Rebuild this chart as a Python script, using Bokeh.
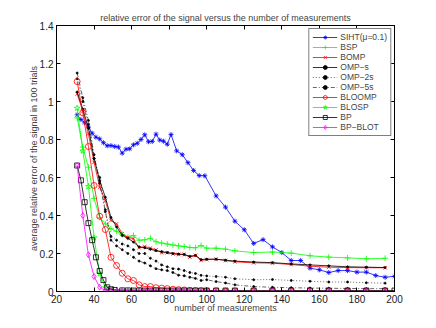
from bokeh.plotting import figure
from bokeh.models import Range1d, LinearAxis, FixedTicker, Legend, CustomJSTickFormatter
from bokeh.embed import file_html
from bokeh.resources import INLINE

# ---------------- data ----------------
x_siht = [31, 33, 35, 37, 39, 41, 43, 45, 47, 49, 51, 53, 55, 57, 59, 61, 63, 65, 67, 69,
          71, 73, 75, 77, 79, 81, 84, 87, 90, 93, 96, 99, 105, 110, 115, 120, 125, 130, 135,
          140, 145, 150, 155, 160, 165, 170, 175, 180, 185, 190, 195, 200]
siht = [0.93, 0.905, 0.888, 0.865, 0.833, 0.812, 0.803, 0.783, 0.767, 0.768, 0.763, 0.76,
        0.728, 0.749, 0.751, 0.772, 0.78, 0.80, 0.825, 0.788, 0.79, 0.828, 0.797, 0.791,
        0.775, 0.826, 0.74, 0.72, 0.678, 0.637, 0.61, 0.609, 0.503, 0.444, 0.37, 0.325,
        0.253, 0.273, 0.235, 0.205, 0.163, 0.163, 0.123, 0.114, 0.1, 0.11, 0.11, 0.102,
        0.102, 0.084, 0.075, 0.08]

x_grid = [31, 34, 37, 40, 43, 46, 49, 52, 55, 58, 61, 64, 67, 70, 73, 76, 79, 82, 85, 88,
          91, 94, 97, 100, 105, 110, 115, 125, 135, 145, 155, 165, 175, 185, 195]

bsp = [0.914, 0.76, 0.654, 0.49, 0.39, 0.356, 0.33, 0.317, 0.3, 0.285, 0.295, 0.27, 0.272,
       0.28, 0.262, 0.255, 0.25, 0.245, 0.24, 0.237, 0.232, 0.23, 0.242, 0.228, 0.228,
       0.223, 0.214, 0.205, 0.208, 0.202, 0.188, 0.181, 0.177, 0.172, 0.175]

bomp = [1.04, 0.95, 0.83, 0.68, 0.549, 0.479, 0.374, 0.356, 0.304, 0.285, 0.277, 0.23,
        0.237, 0.228, 0.219, 0.204, 0.204, 0.198, 0.195, 0.195, 0.181, 0.19, 0.163, 0.168,
        0.17, 0.163, 0.156, 0.151, 0.149, 0.142, 0.133, 0.128, 0.126, 0.125, 0.125]

omp_s = [1.05, 0.96, 0.86, 0.70, 0.584, 0.496, 0.39, 0.34, 0.295, 0.28, 0.26, 0.235, 0.23,
         0.222, 0.215, 0.21, 0.205, 0.2, 0.197, 0.195, 0.185, 0.19, 0.168, 0.17, 0.17,
         0.165, 0.16, 0.155, 0.152, 0.145, 0.14, 0.135, 0.13, 0.128, 0.126]

omp_2s = [1.12, 1.0, 0.88, 0.70, 0.60, 0.43, 0.29, 0.27, 0.25, 0.24, 0.22, 0.2, 0.2, 0.175,
          0.16, 0.14, 0.13, 0.12, 0.118, 0.11, 0.1, 0.095, 0.085, 0.082, 0.079, 0.075,
          0.067, 0.062, 0.063, 0.058, 0.054, 0.05, 0.05, 0.046, 0.044]

omp_5s = [1.15, 1.02, 0.9, 0.72, 0.57, 0.42, 0.27, 0.24, 0.22, 0.2, 0.18, 0.16, 0.15, 0.135,
          0.12, 0.114, 0.11, 0.1, 0.086, 0.083, 0.075, 0.069, 0.058, 0.062, 0.052, 0.045,
          0.035, 0.026, 0.022, 0.02, 0.018, 0.017, 0.016, 0.015, 0.015]

bloomp = [1.105, 0.94, 0.763, 0.558, 0.396, 0.326, 0.18, 0.137, 0.096, 0.067, 0.058, 0.035,
          0.026, 0.026, 0.02, 0.018, 0.015, 0.012, 0.01, 0.008, 0.006, 0.005, 0.004, 0.003,
          0.003, 0.002, 0.002, 0.002, 0.002, 0.002, 0.002, 0.002, 0.002, 0.002, 0.002]

blosp = [0.965, 0.74, 0.553, 0.283, 0.093, 0.02, 0.008, 0.005, 0.004, 0.003, 0.003, 0.002,
         0.002, 0.002, 0.002, 0.002, 0.002, 0.002, 0.002, 0.002, 0.002, 0.002, 0.002, 0.002,
         0.002, 0.002, 0.002, 0.002, 0.002, 0.002, 0.002, 0.002, 0.002, 0.002, 0.002]

x_bp = [31, 33, 35, 37, 39, 41, 43, 45, 47, 49, 51, 55, 58, 61, 64, 67, 70, 73, 76, 79, 82,
        85, 88, 91, 94, 97, 100, 105, 110, 115, 125, 135, 145, 155, 165, 175, 185, 195, 200]
bp = [0.663, 0.585, 0.47, 0.36, 0.27, 0.18, 0.108, 0.06, 0.022, 0.012, 0.008, 0.006, 0.006,
      0.005, 0.005, 0.005, 0.005, 0.005, 0.005, 0.005, 0.005, 0.005, 0.005, 0.005, 0.005,
      0.005, 0.005, 0.005, 0.005, 0.005, 0.005, 0.005, 0.005, 0.005, 0.005, 0.005, 0.005,
      0.005, 0.005]

bp_blot = [0.663, 0.40, 0.193, 0.079, 0.023, 0.005, 0.002, 0.001, 0.001, 0.001, 0.001,
           0.001, 0.001, 0.001, 0.001, 0.001, 0.001, 0.001, 0.001, 0.001, 0.001, 0.001,
           0.001, 0.001, 0.001, 0.001, 0.001, 0.001, 0.001, 0.001, 0.001, 0.001, 0.001,
           0.001, 0.001]

x_ticks = [20, 40, 60, 80, 100, 120, 140, 160, 180, 200]
y_ticks = [0, 0.2, 0.4, 0.6, 0.8, 1.0, 1.2, 1.4]

FONT = "Liberation Sans"

# ---------------- figure ----------------
p = figure(width=428, height=320, output_backend="svg", toolbar_location=None,
           x_range=Range1d(20, 200), y_range=Range1d(0, 1.4),
           min_border_left=56, min_border_right=34, min_border_top=25, min_border_bottom=29,
           title="relative error of the signal versus the number of measurements")
p.title.text_font = FONT
p.title.text_font_size = "9px"
p.title.text_font_style = "normal"
p.title.align = "center"
p.title.offset = 0
p.title.standoff = 5
p.xgrid.visible = False
p.ygrid.visible = False
p.outline_line_color = "black"
p.outline_line_width = 1
p.background_fill_color = "white"
p.border_fill_color = "white"

fmt = CustomJSTickFormatter(code="return (Math.round(tick*10)/10).toString();")
blank = CustomJSTickFormatter(code="return '';")

for ax in p.xaxis + p.yaxis:
    ax.major_tick_in = 4
    ax.major_tick_out = 0
    ax.minor_tick_in = 0
    ax.minor_tick_out = 0
    ax.axis_line_color = "black"
    ax.major_label_text_font = FONT
    ax.major_label_text_font_size = "10px"
    ax.major_label_text_color = "#222222"
    ax.axis_label_text_font = FONT
    ax.axis_label_text_font_size = "9px"
    ax.axis_label_text_font_style = "normal"
    ax.major_label_standoff = 3

p.xaxis.ticker = FixedTicker(ticks=x_ticks)
p.yaxis.ticker = FixedTicker(ticks=y_ticks)
p.yaxis.formatter = fmt
p.xaxis.axis_label = "number of measurements"
p.yaxis.axis_label = "average relative error of the signal in 100 trials"
p.xaxis.axis_label_standoff = -3
p.yaxis.axis_label_standoff = -2

top = LinearAxis(ticker=FixedTicker(ticks=x_ticks), formatter=blank,
                 major_tick_in=4, major_tick_out=0, minor_tick_in=0, minor_tick_out=0,
                 major_label_standoff=0)
right = LinearAxis(ticker=FixedTicker(ticks=y_ticks), formatter=blank,
                   major_tick_in=4, major_tick_out=0, minor_tick_in=0, minor_tick_out=0,
                   major_label_standoff=0)
p.add_layout(top, "above")
p.add_layout(right, "right")

LW = 0.8
items = []

def series(xs, ys, color, marker, label, dash="solid", size=6, fill=None, lw=LW):
    r1 = p.line(xs, ys, line_color=color, line_width=lw, line_dash=dash)
    r2 = p.scatter(xs, ys, marker=marker, size=size, line_color=color, line_width=LW,
                   fill_color=fill if fill else None, fill_alpha=1 if fill else 0)
    items.append((label, [r1, r2]))

series(x_siht, siht, "#0000ff", "asterisk", "SIHT(\u03bc=0.1)", size=5)
series(x_grid, bsp, "#00ff00", "cross", "BSP", size=6)
series(x_grid, bomp, "#ff0000", "x", "BOMP", size=5)
series(x_grid, omp_s, "black", "circle", "OMP\u2212s", size=2, fill="black")
series(x_grid, omp_2s, "black", "circle", "OMP\u22122s", dash="1 2", size=2, fill="black", lw=0.6)
series(x_grid, omp_5s, "black", "circle", "OMP\u22125s", dash="4 2 1 2", size=2, fill="black", lw=0.6)
series(x_grid, bloomp, "#ff0000", "circle", "BLOOMP", size=6)
series(x_grid, blosp, "#00ff00", "star", "BLOSP", size=6)
series(x_bp, bp, "black", "square", "BP", size=5)
series(x_grid, bp_blot, "#ff00ff", "diamond", "BP\u2212BLOT", size=6)

legend = Legend(items=items, location="top_right")
legend.label_text_font = FONT
legend.label_text_font_size = "8.5px"
legend.label_height = 9
legend.glyph_height = 10
legend.glyph_width = 25
legend.spacing = 0
legend.padding = 3
legend.margin = 3
legend.label_standoff = 3
legend.border_line_color = "black"
legend.border_line_width = 0.8
legend.background_fill_alpha = 1
p.add_layout(legend)

open("out.html", "w").write(file_html(p, INLINE))
